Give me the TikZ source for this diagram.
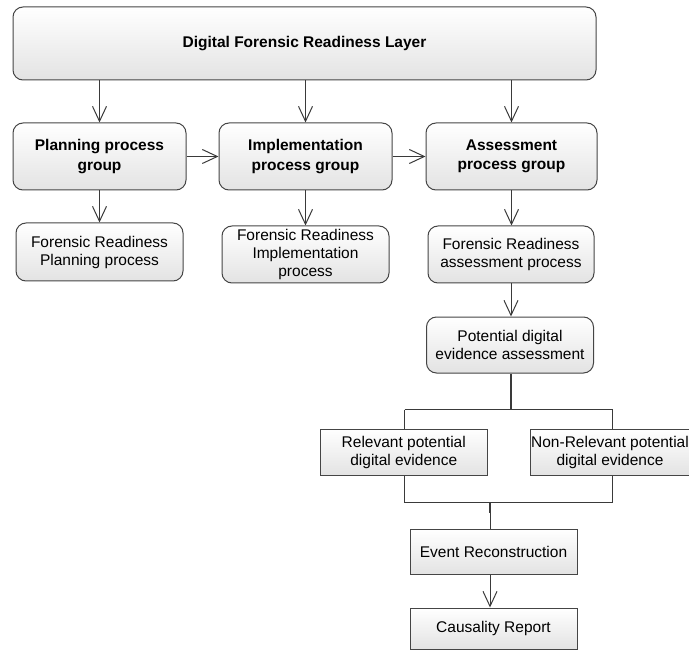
\documentclass[tikz,border=0pt]{standalone}
\usepackage{fontspec}
\setmainfont{Liberation Sans}
\usetikzlibrary{arrows.meta}
\definecolor{edge}{HTML}{454545}
\definecolor{wire}{HTML}{3A3A3A}
\tikzset{
  box/.style={draw=edge, line width=1pt, top color=white, bottom color=black!11,
    inner sep=0pt, align=center, font=\fontsize{15.5}{18}\selectfont},
  rbox/.style={box, rounded corners=10pt},
  group/.style={rbox, font=\bfseries\fontsize{15.5}{19.5}\selectfont},
  flow/.style={draw=wire, line width=1pt, -{Straight Barb[length=15pt,width=14pt]}},
  link/.style={draw=wire, line width=1pt},
  trunk/.style={draw=wire, line width=1.8pt}
}
\begin{document}
\begin{tikzpicture}[x=1pt,y=-1pt]
\useasboundingbox (0,0) rectangle (689,650);

% layer and process groups
\node[group, minimum width=583pt, minimum height=73pt] (layer) at (304.5,43.5) {Digital Forensic Readiness Layer};
\node[group, minimum width=173pt, minimum height=67pt] (plan) at (99.5,156.5) {Planning process\\group};
\node[group, minimum width=173pt, minimum height=67pt] (impl) at (305.5,156.5) {Implementation\\process group};
\node[group, minimum width=171pt, minimum height=67pt] (asmt) at (511.5,156.5) {Assessment\\process group};

% processes
\node[rbox, minimum width=167pt, minimum height=58pt] (frplan) at (99.5,252) {Forensic Readiness\\Planning process};
\node[rbox, minimum width=167pt, minimum height=57pt] (frimpl) at (305.5,254.5) {Forensic Readiness\\Implementation\\process};
\node[rbox, minimum width=166pt, minimum height=57pt] (frasmt) at (511,254.5) {Forensic Readiness\\assessment process};
\node[rbox, minimum width=167pt, minimum height=56pt] (pot) at (510,345) {Potential digital\\evidence assessment};

% evidence outcomes
\node[box, minimum width=166.5pt, minimum height=46pt] (rel) at (403.75,452) {Relevant potential\\digital evidence};
\node[box, minimum width=158.5pt, minimum height=46pt] (nonrel) at (610,452) {Non-Relevant potential\\digital evidence};
\node[box, minimum width=167pt, minimum height=45pt] (event) at (493.5,551.5) {Event Reconstruction};
\node[box, minimum width=167pt, minimum height=41pt] (cause) at (493.5,628.5) {Causality Report};

% layer to groups
\draw[flow] (plan.north |- layer.south) -- (plan.north);
\draw[flow] (impl.north |- layer.south) -- (impl.north);
\draw[flow] (asmt.north |- layer.south) -- (asmt.north);

% group sequence
\draw[flow] (plan.east) -- (impl.west);
\draw[flow] (impl.east) -- (asmt.west);

% groups to processes
\draw[flow] (plan.south) -- (plan.south |- frplan.north);
\draw[flow] (impl.south) -- (impl.south |- frimpl.north);
\draw[flow] (asmt.south) -- (asmt.south |- frasmt.north);
\draw[flow] (frasmt.south) -- (frasmt.south |- pot.north);

% split into relevant / non-relevant
\coordinate (jt) at (511,409.5);
\coordinate (jl) at (404.5,409.5);
\coordinate (jr) at (612.5,409.5);
\draw[trunk] (pot.south -| jt) -- (jt);
\draw[link] (jl) -- (jr);
\draw[link] (jl) -- (jl |- rel.north);
\draw[link] (jr) -- (jr |- nonrel.north);

% merge into event reconstruction
\coordinate (ml) at (404.5,502.5);
\coordinate (mr) at (612.5,502.5);
\coordinate (mc) at (490,502.5);
\draw[link] (jl |- rel.south) -- (ml) -- (mr) -- (jr |- nonrel.south);
\draw[trunk] (mc) -- ++(0,10);
\draw[link] (mc) -- (mc |- event.north);

% event to report
\draw[flow] (mc |- event.south) -- (mc |- cause.north);
\end{tikzpicture}
\end{document}
